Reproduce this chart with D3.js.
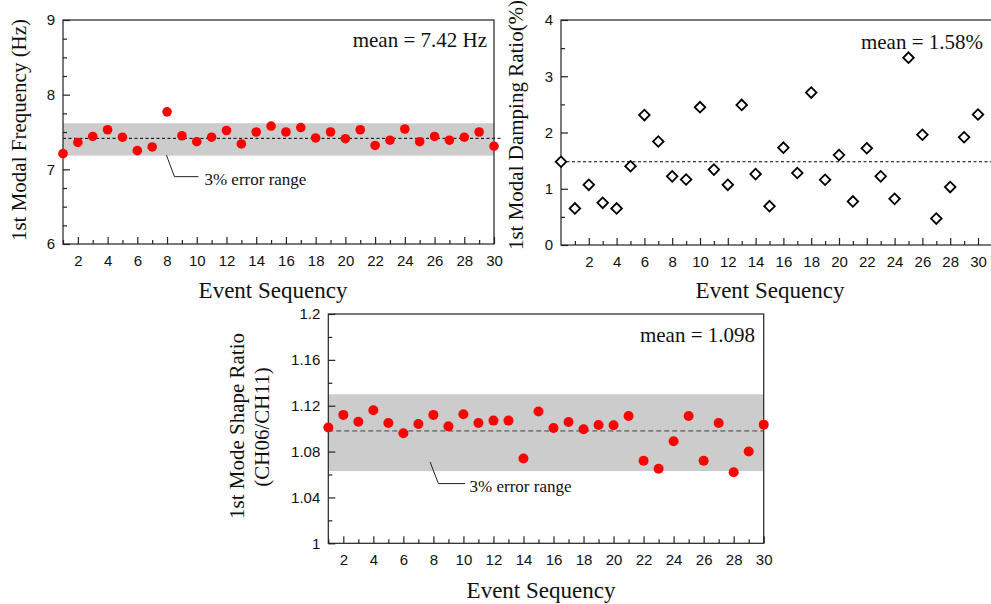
<!DOCTYPE html>
<html>
<head>
<meta charset="utf-8">
<script src="https://cdn.jsdelivr.net/npm/d3@7"></script>
<style>
  body { margin: 0; background: #fff; }
  svg { display: block; }
  .serif { font-family: "Liberation Serif", "Times New Roman", serif; fill: #111; }
  .tick text { font-family: "Liberation Sans", Arial, sans-serif; font-size: 15px; fill: #111; }
  .tick line { stroke: #222; stroke-width: 1.2; }
</style>
</head>
<body>
<script>
// event numbers
const events = d3.range(1, 31);
const dampEvents = d3.range(0, 31); // damping plot has an extra marker at 0

// 1st modal frequency (Hz)
const freqValues = [7.21, 7.36, 7.44, 7.53, 7.43, 7.25, 7.30, 7.77, 7.45, 7.37,
  7.43, 7.52, 7.34, 7.50, 7.58, 7.50, 7.56, 7.42, 7.50, 7.41,
  7.53, 7.32, 7.39, 7.54, 7.37, 7.44, 7.39, 7.43, 7.50, 7.31];
const freqMeanLine = 7.415;
const freqBand = [7.183, 7.617];

// 1st modal damping ratio (%)
const dampValues = [1.48, 0.65, 1.07, 0.75, 0.65, 1.40, 2.31, 1.84, 1.22, 1.165, 2.45,
  1.34, 1.07, 2.49, 1.26, 0.69, 1.73, 1.28, 2.71, 1.16, 1.60,
  0.775, 1.72, 1.22, 0.82, 3.33, 1.96, 0.47, 1.03, 1.915, 2.32];
const dampMeanLine = 1.48;

// 1st mode shape ratio
const shapeValues = [1.101, 1.112, 1.106, 1.116, 1.105, 1.096, 1.104, 1.112, 1.102, 1.1125,
  1.105, 1.107, 1.107, 1.074, 1.115, 1.1006, 1.1058, 1.0994, 1.1032, 1.103,
  1.111, 1.072, 1.065, 1.089, 1.111, 1.072, 1.105, 1.062, 1.080, 1.1035];
const shapeMeanLine = 1.098;
const shapeBand = [1.063, 1.130];

const freqTicks = [6, 7, 8, 9];
const dampTicks = [0, 1, 2, 3, 4];
const shapeTicks = [1, 1.04, 1.08, 1.12, 1.16, 1.2];
const evenTicks = d3.range(2, 31, 2);
const oddTicks = d3.range(1, 30, 2);

const W = 991, H = 604;
const svg = d3.select("body").append("svg").attr("width", W).attr("height", H);

function panel(cfg) {
  const x = d3.scaleLinear().domain(cfg.xDomain).range([cfg.left, cfg.right]);
  const y = d3.scaleLinear().domain(cfg.yDomain).range([cfg.bottom, cfg.top]);
  const g = svg.append("g");

  if (cfg.band) {
    g.append("rect")
      .attr("x", cfg.left).attr("width", cfg.right - cfg.left)
      .attr("y", y(cfg.band[1])).attr("height", y(cfg.band[0]) - y(cfg.band[1]))
      .attr("fill", "#cccccc");
  }

  g.append("line")
    .attr("x1", cfg.left).attr("x2", cfg.right + (cfg.meanOver || 0))
    .attr("y1", y(cfg.meanLine)).attr("y2", y(cfg.meanLine))
    .attr("stroke", cfg.dashColor || "#000").attr("stroke-width", 1)
    .attr("stroke-dasharray", cfg.dash);

  // x axis, ticks pointing inward
  g.append("g").attr("transform", `translate(0,${cfg.bottom})`)
    .call(d3.axisBottom(x).tickValues(evenTicks).tickSizeInner(-7).tickSizeOuter(0).tickPadding(11))
    .call(a => a.select(".domain").remove());
  g.append("g").attr("transform", `translate(0,${cfg.bottom})`)
    .call(d3.axisBottom(x).tickValues(oddTicks).tickSizeInner(-4).tickSizeOuter(0).tickFormat(""))
    .call(a => a.select(".domain").remove());

  // y axis
  g.append("g").attr("transform", `translate(${cfg.left},0)`)
    .call(d3.axisLeft(y).tickValues(cfg.yTicks).tickSizeInner(-7).tickSizeOuter(0).tickPadding(8)
      .tickFormat(d => String(+d.toFixed(2))))
    .call(a => a.select(".domain").remove());
  g.append("g").attr("transform", `translate(${cfg.left},0)`)
    .call(d3.axisLeft(y).tickValues(cfg.yMinor).tickSizeInner(-4).tickSizeOuter(0).tickFormat(""))
    .call(a => a.select(".domain").remove());

  // frame
  g.append("rect")
    .attr("x", cfg.left).attr("y", cfg.top)
    .attr("width", cfg.right - cfg.left).attr("height", cfg.bottom - cfg.top)
    .attr("fill", "none").attr("stroke", "#222").attr("stroke-width", 1.2);

  // markers
  if (cfg.diamond) {
    const sym = d3.symbol().type(d3.symbolSquare).size(56);
    g.selectAll(".pt").data(cfg.values).enter().append("path")
      .attr("d", sym)
      .attr("transform", (d, i) => `translate(${x(cfg.xs[i])},${y(d)}) rotate(45)`)
      .attr("fill", "#fff").attr("stroke", "#000").attr("stroke-width", 1.8);
  } else {
    g.selectAll(".pt").data(cfg.values).enter().append("circle")
      .attr("cx", (d, i) => x(cfg.xs[i])).attr("cy", d => y(d))
      .attr("r", cfg.r).attr("fill", "#ff0000");
  }

  // error range note
  if (cfg.note) {
    const n = cfg.note;
    const sx = x(n.at[0]), sy = y(n.at[1]);
    g.append("path")
      .attr("d", `M${sx},${sy}L${sx + n.dx},${sy + n.dy}H${sx + n.hx}`)
      .attr("fill", "none").attr("stroke", "#222").attr("stroke-width", 1);
    g.append("text").attr("class", "serif")
      .attr("x", sx + n.tx).attr("y", sy + n.ty)
      .style("font-size", "17px").text("3% error range");
  }

  g.append("text").attr("class", "serif")
    .attr("x", cfg.meanPos[0]).attr("y", cfg.meanPos[1])
    .attr("text-anchor", "end").style("font-size", "21px").text(cfg.meanText);

  g.append("text").attr("class", "serif")
    .attr("x", cfg.xTitle[0]).attr("y", cfg.xTitle[1])
    .attr("text-anchor", "middle").style("font-size", "23px").text("Event Sequency");

  cfg.yTitle.forEach(t => {
    g.append("text").attr("class", "serif")
      .attr("transform", `translate(${t.x},${t.y}) rotate(-90)`)
      .attr("text-anchor", "middle").attr("dy", "0.3em")
      .style("font-size", "21px").text(t.text);
  });
}

panel({
  left: 63, right: 494, top: 20, bottom: 244,
  xDomain: [1, 30], yDomain: [6, 9],
  yTicks: freqTicks, yMinor: d3.range(6.25, 9, 0.25).filter(v => v % 1 !== 0),
  xs: events, values: freqValues, r: 4.8,
  band: freqBand, meanLine: freqMeanLine, dash: "3,2.5", meanOver: 9,
  note: { at: [7.96, 7.19], dx: 8, dy: 21.5, hx: 32, tx: 38, ty: 30 },
  meanText: "mean = 7.42 Hz", meanPos: [487, 47],
  xTitle: [273, 298],
  yTitle: [{ x: 20, y: 130, text: "1st Modal Frequency (Hz)" }]
});

panel({
  left: 561, right: 561 + 31 * 13.9, top: 20, bottom: 245,
  xDomain: [0, 31], yDomain: [0, 4],
  yTicks: dampTicks, yMinor: [0.5, 1.5, 2.5, 3.5],
  xs: dampEvents, values: dampValues, diamond: true,
  meanLine: dampMeanLine, dash: "3,2.5",
  meanText: "mean = 1.58%", meanPos: [983, 49],
  xTitle: [770, 298],
  yTitle: [{ x: 517, y: 125, text: "1st Modal Damping Ratio(%)" }]
});

panel({
  left: 328.3, right: 763.7, top: 314, bottom: 543.3,
  xDomain: [1, 30], yDomain: [1, 1.2],
  yTicks: shapeTicks, yMinor: [1.02, 1.06, 1.10, 1.14, 1.18],
  xs: events, values: shapeValues, r: 5,
  band: shapeBand, meanLine: shapeMeanLine, dash: "5,3", dashColor: "#444",
  note: { at: [7.78, 1.071], dx: 8.3, dy: 21.7, hx: 35, tx: 39.5, ty: 30 },
  meanText: "mean = 1.098", meanPos: [755, 342],
  xTitle: [541, 598],
  yTitle: [{ x: 238, y: 426, text: "1st Mode Shape Ratio" },
           { x: 263, y: 427, text: "(CH06/CH11)" }]
});
</script>
</body>
</html>
